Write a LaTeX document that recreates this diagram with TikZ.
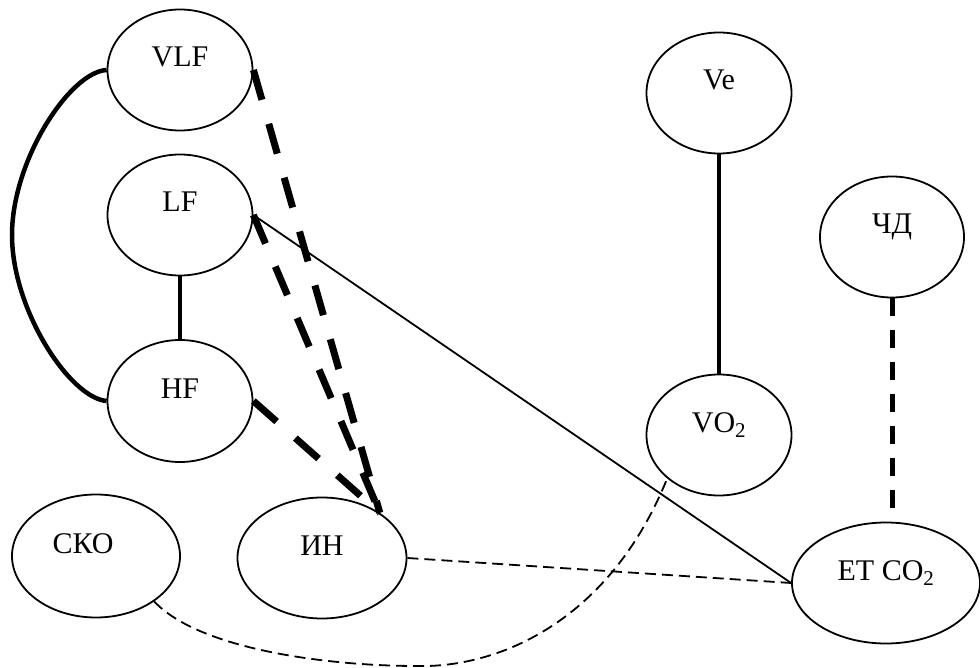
\documentclass[tikz,border=0pt]{standalone}
\usepackage{fontspec}
\setmainfont{Liberation Serif}
\usetikzlibrary{shapes.geometric, calc}

\begin{document}
\begin{tikzpicture}[x=1pt, y=-1pt,
    oval/.style={ellipse, draw, line width=1.8pt, minimum width=145pt, minimum height=121pt,
        inner sep=0pt, font=\fontsize{30}{30}\selectfont, text height=20pt, text depth=26pt},
    forte/.style={line width=4.5pt},
    tratteggio/.style={line width=7pt, dash pattern=on 31pt off 25pt},
    medio/.style={line width=5pt, dash pattern=on 18pt off 14pt},
    sottile/.style={line width=1.8pt},
    puntini/.style={line width=1.8pt, dash pattern=on 11pt off 6pt}]
    \useasboundingbox (0,0) rectangle (980,668);

    % Ovali a sinistra
    \node[oval] (vlf) at (180,70) {VLF};
    \node[oval] (lf) at (180,215) {LF};
    \node[oval, minimum height=122pt] (hf) at (180,401) {HF};
    \node[oval, minimum width=168pt, minimum height=123pt] (sko) at (96,556) {СКО\kern26pt};
    \node[oval, minimum width=169pt] (inn) at (322,558) {ИН};

    % Ovali a destra
    \node[oval] (ve) at (719,93) {Ve};
    \node[oval, minimum width=144pt] (chd) at (892,237) {ЧД};
    \node[oval] (vo) at (719,435) {VO\textsubscript{2}};
    \node[oval, minimum width=188pt] (etco) at (886,583) {ET CO\textsubscript{2}};

    % Legami forti
    \coordinate (arco) at (12,235);
    \draw[forte] (vlf.west) .. controls (70,72) and (12,160) .. (arco)
        .. controls (12,310) and (70,398) .. (hf.west);
    \draw[forte] (lf.south) -- (hf.north);
    \draw[forte] (ve.south) -- (vo.north);

    % Tratteggi spessi verso ИН
    \draw[tratteggio] (vlf.east) -- (inn.38);
    \draw[tratteggio] (lf.east) -- (inn.38);
    \draw[tratteggio] (hf.east) -- (inn.38);
    \draw[medio, shorten >=10pt] (chd.south) -- (chd.south |- etco.north);

    % Legami deboli
    \draw[sottile] (lf.east) -- (etco.west);
    \draw[puntini] (inn.east) -- (etco.west);
    \coordinate (fondo) at (417,666);
    \draw[puntini] (sko.-38) .. controls (200,650) and (330,666) .. (fondo)
        .. controls (500,668) and (610,620) .. (vo.-140);

\end{tikzpicture}
\end{document}
